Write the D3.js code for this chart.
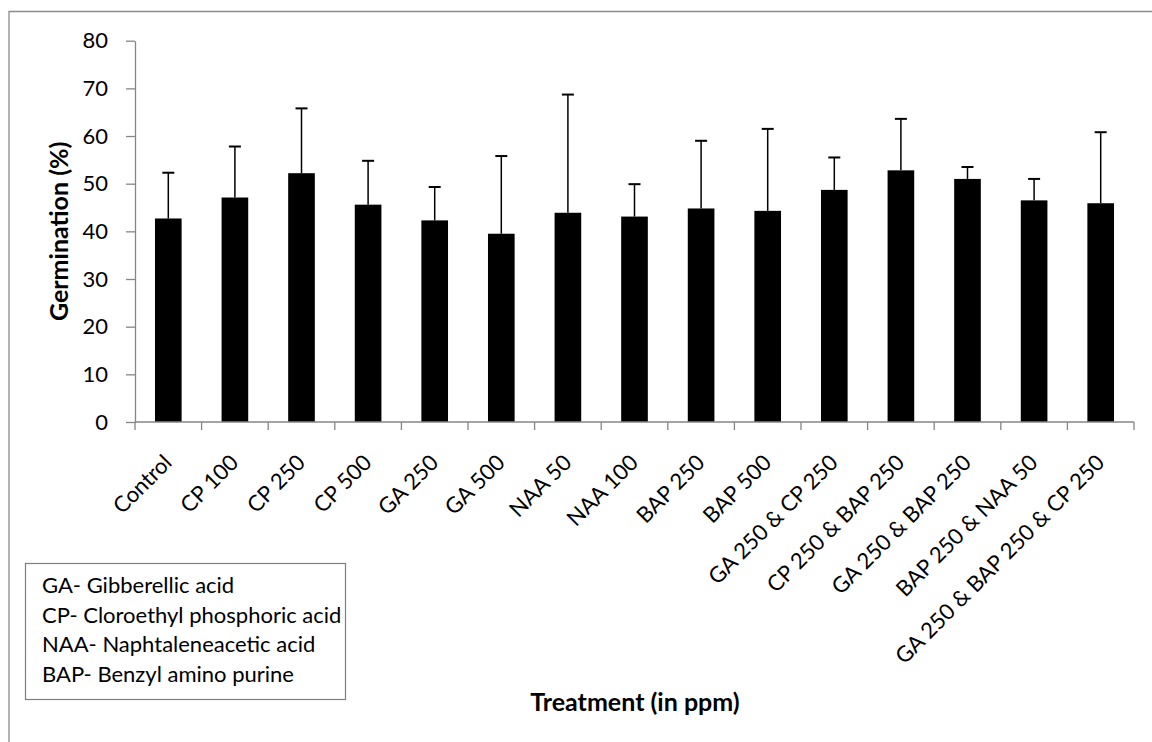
<!DOCTYPE html>
<html>
<head>
<meta charset="utf-8">
<script src="https://cdn.jsdelivr.net/npm/d3@7.9.0/dist/d3.min.js"></script>
<style>
  body { margin: 0; background: #fff; }
  svg { display: block; font-family: Lato, "Open Sans", sans-serif; }
</style>
</head>
<body>
<div id="chart"></div>
<script>
const treatments = ['Control', 'CP 100', 'CP 250', 'CP 500', 'GA 250', 'GA 500', 'NAA 50', 'NAA 100',
  'BAP 250', 'BAP 500', 'GA 250 & CP 250', 'CP 250 & BAP 250', 'GA 250 & BAP 250',
  'BAP 250 & NAA 50', 'GA 250 & BAP 250 & CP 250'];
const germination = [42.7, 47.1, 52.2, 45.6, 42.3, 39.5, 43.9, 43.1, 44.8, 44.3, 48.7, 52.8, 51.0, 46.5, 45.9];
const errorTop = [52.3, 57.8, 65.8, 54.8, 49.3, 55.8, 68.7, 49.9, 59.0, 61.5, 55.5, 63.6, 53.5, 51.0, 60.8];
const yTicks = [0, 10, 20, 30, 40, 50, 60, 70, 80];
const legendLines = ['GA- Gibberellic acid', 'CP- Cloroethyl phosphoric acid',
  'NAA- Naphtaleneacetic acid', 'BAP- Benzyl amino purine'];

const width = 1152, height = 742;
const plot = { left: 135, right: 1134, top: 40.7, bottom: 422 };
const axisColor = '#868686';

const data = treatments.map((t, i) => ({ name: t, value: germination[i], err: errorTop[i] }));

const svg = d3.select('#chart').append('svg')
  .attr('width', width)
  .attr('height', height);

// outer chart border (only top and left visible)
svg.append('path')
  .attr('d', `M9,${height}V11.5H${width}`)
  .attr('fill', 'none')
  .attr('stroke', '#8c8c8c')
  .attr('stroke-width', 1.3);

const x = d3.scaleBand()
  .domain(treatments)
  .range([plot.left, plot.right])
  .paddingInner(0.6)
  .paddingOuter(0.3);

const y = d3.scaleLinear()
  .domain([0, 80])
  .range([plot.bottom, plot.top]);

// bars
svg.append('g').selectAll('rect')
  .data(data)
  .join('rect')
  .attr('x', d => x(d.name))
  .attr('y', d => y(d.value))
  .attr('width', x.bandwidth())
  .attr('height', d => y(0) - y(d.value))
  .attr('fill', '#000');

// error bars (upper only)
const errs = svg.append('g')
  .attr('stroke', '#000');
errs.selectAll('line.stem')
  .data(data)
  .join('line')
  .attr('class', 'stem')
  .attr('x1', d => x(d.name) + x.bandwidth() / 2)
  .attr('x2', d => x(d.name) + x.bandwidth() / 2)
  .attr('y1', d => y(d.value))
  .attr('y2', d => y(d.err))
  .attr('stroke-width', 1.5);
errs.selectAll('line.cap')
  .data(data)
  .join('line')
  .attr('class', 'cap')
  .attr('x1', d => x(d.name) + x.bandwidth() / 2 - 6)
  .attr('x2', d => x(d.name) + x.bandwidth() / 2 + 6)
  .attr('y1', d => y(d.err))
  .attr('y2', d => y(d.err))
  .attr('stroke-width', 2);

// y axis
const yAxis = svg.append('g')
  .attr('transform', `translate(${plot.left},0)`)
  .call(d3.axisLeft(y).tickValues(yTicks).tickSize(9).tickPadding(18).tickSizeOuter(0));
yAxis.select('.domain').attr('stroke', axisColor).attr('stroke-width', 1.3);
yAxis.selectAll('.tick line').attr('stroke', axisColor).attr('stroke-width', 1.3);
yAxis.selectAll('.tick text')
  .attr('font-size', 22)
  .attr('font-family', 'Lato, "Open Sans", sans-serif')
  .attr('fill', '#000');

// x axis with ticks at category boundaries
const xAxis = svg.append('g')
  .attr('transform', `translate(0,${plot.bottom})`);
xAxis.append('line')
  .attr('x1', plot.left).attr('x2', plot.right)
  .attr('stroke', axisColor).attr('stroke-width', 1.3);
const boundaries = d3.range(treatments.length + 1).map(i => plot.left + i * (plot.right - plot.left) / treatments.length);
xAxis.selectAll('line.tick')
  .data(boundaries)
  .join('line')
  .attr('class', 'tick')
  .attr('x1', d => d).attr('x2', d => d)
  .attr('y1', 0).attr('y2', 8)
  .attr('stroke', axisColor).attr('stroke-width', 1.3);

xAxis.selectAll('text')
  .data(treatments)
  .join('text')
  .attr('transform', d => `translate(${x(d) + x.bandwidth() / 2 + 5},${42}) rotate(-45)`)
  .attr('text-anchor', 'end')
  .attr('font-size', 22)
  .attr('fill', '#000')
  .text(d => d);

// axis titles
svg.append('text')
  .attr('transform', `translate(68,${(plot.top + plot.bottom) / 2}) rotate(-90)`)
  .attr('text-anchor', 'middle')
  .attr('font-size', 25)
  .attr('font-weight', 'bold')
  .text('Germination (%)');

svg.append('text')
  .attr('x', 635)
  .attr('y', 711)
  .attr('text-anchor', 'middle')
  .attr('font-size', 25)
  .attr('font-weight', 'bold')
  .text('Treatment (in ppm)');

// abbreviation box
const legend = svg.append('g');
legend.append('rect')
  .attr('x', 25.5).attr('y', 563.5)
  .attr('width', 320).attr('height', 136)
  .attr('fill', '#fff')
  .attr('stroke', '#7f7f7f')
  .attr('stroke-width', 1.2);
legend.selectAll('text')
  .data(legendLines)
  .join('text')
  .attr('x', 42)
  .attr('y', (d, i) => 593 + i * 29.5)
  .attr('font-size', 22)
  .attr('fill', '#000')
  .text(d => d);
</script>
</body>
</html>
